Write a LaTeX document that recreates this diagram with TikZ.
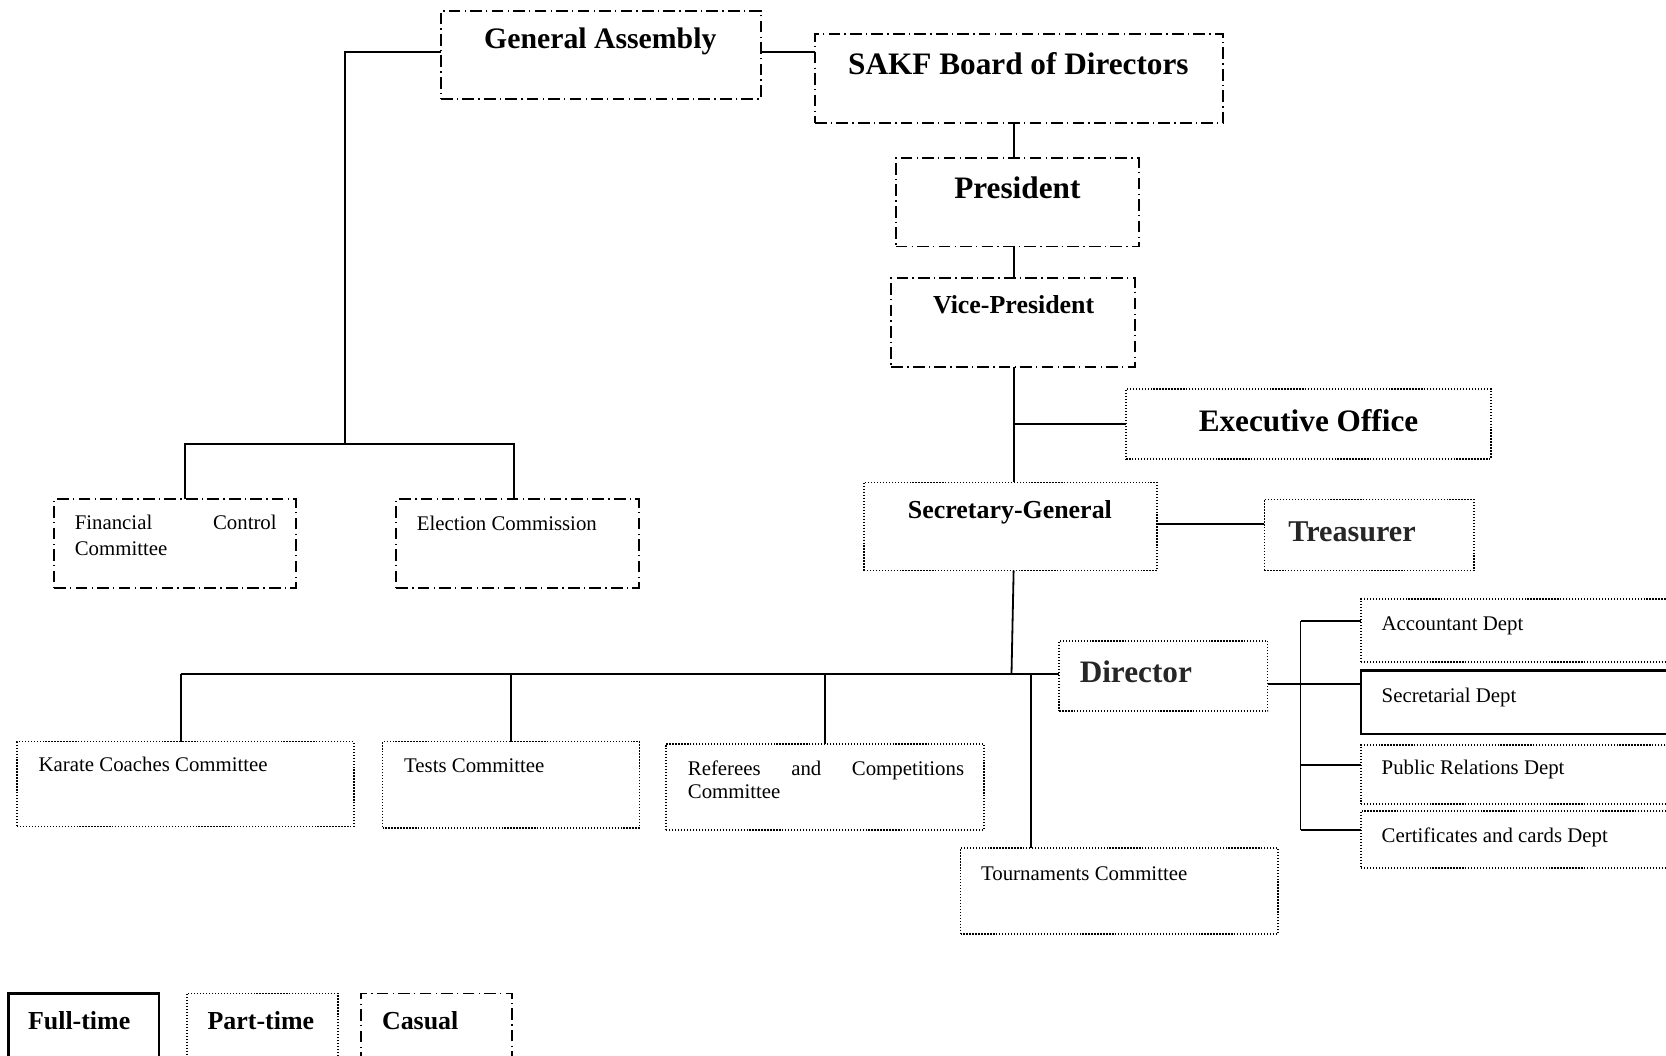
\documentclass[tikz,border=0pt]{standalone}
\usepackage{fontspec}
\setmainfont{Liberation Serif}
\begin{document}
\begin{tikzpicture}[x=0.5pt,y=-0.5pt,
  box/.style={rectangle, inner sep=0pt, outer sep=0pt},
  casual/.style={box, draw, line width=0.9pt, dash pattern=on 5.5pt off 2pt on 0.6pt off 2pt},
  parttime/.style={box, draw, line width=0.8pt, dash pattern=on 0.6pt off 0.8pt},
  fulltime/.style={box, draw, line width=1pt},
  link/.style={line width=0.85pt},
  bigtitle/.style={inner sep=0pt, anchor=base, font=\bfseries\fontsize{14.7}{17}\selectfont},
  midtitle/.style={inner sep=0pt, anchor=base, font=\bfseries\fontsize{12.2}{14}\selectfont},
  small/.style={inner sep=0pt, anchor=base west, font=\fontsize{9.8}{12}\selectfont}]
\clip (0,0) rectangle (1568,993);
\fill[white] (0,0) rectangle (1568,993);

% --- boxes: governing bodies (casual) ---
\node[casual, minimum width=150.5pt, minimum height=41.5pt] (ga)   at (565.5,51.5) {};
\node[casual, minimum width=192pt,   minimum height=42pt]   (sakf) at (959,74) {};
\node[casual, minimum width=114.5pt, minimum height=41.5pt] (pres) at (957.5,190.5) {};
\node[casual, minimum width=114.5pt, minimum height=41.5pt] (vp)   at (953.5,303.5) {};
\node[casual, minimum width=114pt,   minimum height=41.5pt] (fin)  at (165,511.5) {};
\node[casual, minimum width=114pt,   minimum height=41.5pt] (elec) at (487,511.5) {};

% --- boxes: officers and committees (part-time) ---
\node[parttime, minimum width=171.5pt, minimum height=33pt]   (exec) at (1231.5,399) {};
\node[parttime, minimum width=138pt,   minimum height=41.5pt] (sg)   at (951,495.5) {};
\node[parttime, minimum width=98.5pt,  minimum height=33.5pt] (tre)  at (1288.5,503.5) {};
\node[parttime, minimum width=98pt,    minimum height=33pt]   (dir)  at (1095,636) {};
\node[parttime, minimum width=158.5pt, minimum height=40pt]   (kar)  at (174.5,738) {};
\node[parttime, minimum width=121pt,   minimum height=40.5pt] (tests) at (481,738.5) {};
\node[parttime, minimum width=149.5pt, minimum height=40.5pt] (ref)  at (776.5,740.5) {};
\node[parttime, minimum width=149.5pt, minimum height=40.5pt] (tour) at (1053.5,838.5) {};

% --- departments ---
\node[parttime, minimum width=209.5pt, minimum height=29.5pt] (acc)  at (1490.5,593.5) {};
\node[fulltime, minimum width=209.5pt, minimum height=30pt]   (sec)  at (1490.5,661) {};
\node[parttime, minimum width=209.5pt, minimum height=28pt]   (pr)   at (1490.5,729) {};
\node[parttime, minimum width=209.5pt, minimum height=27pt]   (cert) at (1490.5,790) {};

% --- legend ---
\node[fulltime, minimum width=71pt, minimum height=42.5pt] (lfull) at (79,977.5) {};
\node[parttime, minimum width=71pt, minimum height=42.5pt] (lpart) at (247,977.5) {};
\node[casual,   minimum width=71pt, minimum height=42.5pt] (lcas)  at (411,977.5) {};

% --- texts ---
\node[bigtitle, font=\bfseries\fontsize{14}{17}\selectfont] (tga) at (565,46) {General Assembly};
\node[bigtitle] (tsakf) at (958.5,70) {SAKF Board of Directors};
\node[bigtitle] (tpres) at (957.5,187) {President};
\node[midtitle] (tvp)   at (954,295) {Vice-President};
\node[bigtitle] (texec) at (1231.5,406) {Executive Office};
\node[midtitle] (tsg)   at (950.5,488) {Secretary-General};
\node[bigtitle, text=black!85, font=\bfseries\fontsize{14.2}{17}\selectfont] (ttre) at (1272.5,510) {Treasurer};
\node[bigtitle, text=black!85] (tdir) at (1069,642) {Director};

\node[small] (tfin1) at (70,498.5) {\makebox[95pt][s]{Financial Control}};
\node[small] (tfin2) at (70,522.5) {Committee};
\node[small] (telec) at (392,499.5) {Election Commission};
\node[small] (tkar)  at (36,726.5) {Karate Coaches Committee};
\node[small] (ttests) at (380,727.5) {Tests Committee};
\node[small] (tref1) at (647,729.5) {\makebox[130pt][s]{Referees and Competitions}};
\node[small] (tref2) at (647,751.5) {Committee};
\node[small] (ttour) at (923,828.5) {Tournaments Committee};
\node[small] (tacc)  at (1300,593.5) {Accountant Dept};
\node[small] (tsec)  at (1300,661.5) {Secretarial Dept};
\node[small] (tpr)   at (1300,728.5) {Public Relations Dept};
\node[small] (tcert) at (1300,792.5) {Certificates and cards Dept};

\node[midtitle] (tlfull) at (74.5,969) {Full-time};
\node[midtitle] (tlpart) at (245.5,969) {Part-time};
\node[midtitle] (tlcas)  at (395.5,969) {Casual};

% --- connectors ---
\coordinate (spine) at (954,0);
\coordinate (gaj)   at (325,418);
\coordinate (busj)  at (952,634);
\coordinate (busL)  at (170,634);
\coordinate (tj)    at (970,634);
\coordinate (dj)    at (1224,644);

\draw[link] ([yshift=1.25pt]ga.east) -- ([yshift=1.25pt]ga.east -| sakf.west);
\draw[link] ([yshift=1.25pt]ga.west) -| (gaj);
\draw[link] ([xshift=4.5pt]fin.north) |- (gaj) -| ([xshift=-1.5pt]elec.north);

\draw[link] (sakf.south -| spine) -- (pres.north -| spine);
\draw[link] (pres.south -| spine) -- (vp.north -| spine);
\draw[link] (vp.south -| spine) -- (sg.north -| spine);
\draw[link] (spine |- exec.west) -- (exec.west);
\draw[link] ([yshift=1.25pt]sg.east) -- ([yshift=1.25pt]sg.east -| tre.west);

\draw[link] (sg.south -| spine) -- (busj);
\draw[link] (busL) -- (dir.west |- busL);
\draw[link] (busL) -- (busL |- kar.north);
\draw[link] (tests.north) -- (tests.north |- busL);
\draw[link] (ref.north) -- (ref.north |- busL);
\draw[link] (tj) -- (tj |- tour.north);

\draw[link] ([yshift=-4pt]dir.east) -- ([yshift=-4pt]dir.east -| sec.west);
\draw[link] ([yshift=4.5pt]acc.west -| dj) -- ([yshift=4.5pt]cert.west -| dj);
\draw[link] ([yshift=4.5pt]acc.west -| dj) -- ([yshift=4.5pt]acc.west);
\draw[link] ([yshift=4.5pt]pr.west -| dj) -- ([yshift=4.5pt]pr.west);
\draw[link] ([yshift=4.5pt]cert.west -| dj) -- ([yshift=4.5pt]cert.west);
\end{tikzpicture}
\end{document}
